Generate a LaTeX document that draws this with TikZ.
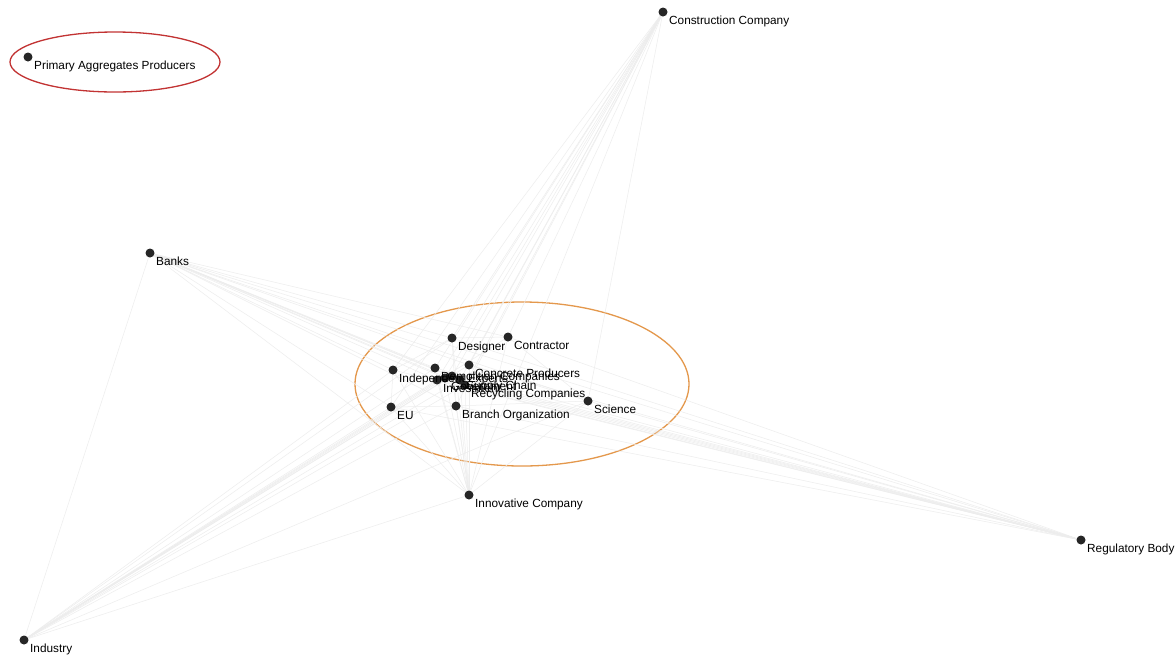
\documentclass[tikz,border=0pt]{standalone}
\usepackage{fontspec}
\setmainfont{Liberation Sans}
\begin{document}
\begin{tikzpicture}[x=1pt,y=-1pt,
  dot/.style={circle,fill=black!85,inner sep=0pt,minimum size=9pt},
  lab/.style={anchor=base west,inner sep=0pt,font=\fontsize{11.8}{13}\selectfont,text=black},
  edge/.style={draw=black!7,line width=0.5pt}]
\useasboundingbox (0,0) rectangle (1176,657);
\fill[white] (0,0) rectangle (1176,657);

% group outlines
\draw[red!70!black!80,line width=1.3pt] (115,62) ellipse [x radius=105,y radius=30];
\draw[orange!85!black!70,line width=1.3pt] (522,384) ellipse [x radius=167,y radius=82];

% node positions
\coordinate (pap) at (28,57);
\coordinate (cc) at (663,12);
\coordinate (bk) at (150,253);
\coordinate (rb) at (1081,540);
\coordinate (in) at (24,640);
\coordinate (ic) at (469,495);
\coordinate (des) at (452,338);
\coordinate (ctr) at (508,337);
\coordinate (idp) at (393,370);
\coordinate (dem) at (435,368);
\coordinate (cp) at (469,365);
\coordinate (inv) at (437,380);
\coordinate (ga) at (445,378);
\coordinate (gb) at (452,376);
\coordinate (sc) at (460,380);
\coordinate (rc) at (465,385);
\coordinate (sci) at (588,401);
\coordinate (eu) at (391,407);
\coordinate (bo) at (456,406);

% connectors
\foreach \p in {cc,bk,rb,in,ic}{
  \foreach \c in {des,ctr,idp,dem,cp,inv,ga,gb,sc,rc,sci,eu,bo}{
    \draw[edge] (\p) -- (\c);
  }
}
\foreach \a/\b in {bk/rb,in/bk,in/ic,cc/ic,bk/ic}{
  \draw[edge] (\a) -- (\b);
}
\foreach \a/\b in {des/ctr,des/idp,ctr/sci,eu/bo,idp/eu,bo/sci,cp/sci,des/bo}{
  \draw[edge] (\a) -- (\b);
}

% dots
\foreach \n in {pap,cc,bk,rb,in,ic,des,ctr,idp,dem,cp,inv,ga,gb,sc,rc,sci,eu,bo}{
  \node[dot] (d\n) at (\n) {};
}

% labels
\node[lab] (tpap) at (34,69) {Primary Aggregates Producers};
\node[lab] (tcc) at (669,24) {Construction Company};
\node[lab] (tbk) at (156,265) {Banks};
\node[lab] (trb) at (1087,552) {Regulatory Body};
\node[lab] (tin) at (30,652) {Industry};
\node[lab] (tic) at (475,507) {Innovative Company};
\node[lab] (tdes) at (458,350) {Designer};
\node[lab] (tctr) at (514,349) {Contractor};
\node[lab] (tidp) at (399,382) {Independent Experts};
\node[lab] (tdem) at (441,380) {Demolition Companies};
\node[lab] (tcp) at (475,377) {Concrete Producers};
\node[lab] (tinv) at (443,392) {Investment};
\node[lab] (tga) at (451,390) {Government};
\node[lab] (tsc) at (466,389) {Supply Chain};
\node[lab] (trc) at (471,397) {Recycling Companies};
\node[lab] (tsci) at (594,413) {Science};
\node[lab] (teu) at (397,419) {EU};
\node[lab] (tbo) at (462,418) {Branch Organization};
\end{tikzpicture}
\end{document}
